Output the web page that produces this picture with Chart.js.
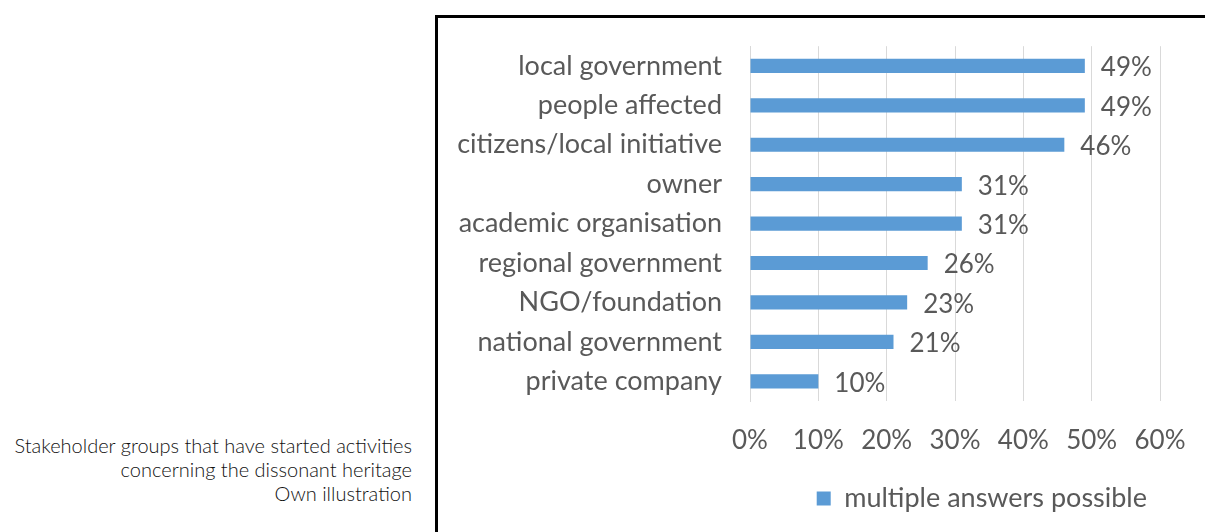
<!DOCTYPE html>
<html>
<head>
<meta charset="utf-8">
<script src="https://cdn.jsdelivr.net/npm/chart.js@4/dist/chart.umd.min.js"></script>
<style>
  html, body { margin: 0; padding: 0; background: #fff; }
  body { width: 1205px; height: 532px; position: relative; overflow: hidden; }
  .caption {
    position: absolute; right: 793px; top: 433px; width: 430px;
    text-align: right; font-family: Lato, sans-serif; font-weight: 300;
    font-size: 20px; line-height: 24px; color: #111;
  }
  .frame {
    position: absolute; left: 435px; top: 15px; width: 900px; height: 700px;
    border: 3px solid #000; box-sizing: border-box;
  }
  .chart-box { position: absolute; left: 440px; top: 2px; width: 765px; height: 530px; }
</style>
</head>
<body>
<div class="caption">Stakeholder groups that have started activities<br>concerning the dissonant heritage<br>Own illustration</div>
<div class="frame"></div>
<div class="chart-box"><canvas id="chart"></canvas></div>
<script>
(function(){
    // data
    let categories = [
        'local government', 'people affected', 'citizens/local initiative',
        'owner', 'academic organisation', 'regional government',
        'NGO/foundation', 'national government', 'private company'
    ];
    let shares = [49, 49, 46, 31, 31, 26, 23, 21, 10];
    let seriesName = 'multiple answers possible';
    let axisMax = 60;
    let axisStep = 10;

    let barColor = '#5b9bd5';
    let textColor = '#595959';
    let fontFamily = 'Lato, "Liberation Sans", sans-serif';

    // value labels right of every bar
    let valueLabels = {
        id: 'valueLabels',
        afterDatasetsDraw(chart) {
            let ctx = chart.ctx;
            let meta = chart.getDatasetMeta(0);
            ctx.save();
            ctx.font = '26px ' + fontFamily;
            ctx.fillStyle = textColor;
            ctx.textBaseline = 'middle';
            meta.data.forEach((bar, i) => {
                ctx.fillText(shares[i] + '%', bar.x + 16, bar.y + 2);
            });
            ctx.restore();
        }
    };

    let ctx = document.getElementById('chart').getContext('2d');
    new Chart(ctx, {
        type: 'bar',
        data: {
            labels: categories,
            datasets: [{
                label: seriesName,
                data: shares,
                backgroundColor: barColor,
                barPercentage: 0.72,
                categoryPercentage: 0.5
            }]
        },
        options: {
            indexAxis: 'y',
            responsive: true,
            maintainAspectRatio: false,
            animation: false,
            layout: { padding: { top: 7, right: 45, bottom: 10, left: 0 } },
            scales: {
                x: {
                    min: 0,
                    max: axisMax,
                    ticks: {
                        stepSize: axisStep,
                        callback: (v) => v + '%',
                        color: textColor,
                        font: { family: fontFamily, size: 26 },
                        padding: 24
                    },
                    grid: { color: '#d9d9d9', drawTicks: false },
                    border: { display: false },
                    afterFit: (scale) => {
                        scale.height = 71;
                        scale.paddingRight = 0;
                    }
                },
                y: {
                    ticks: {
                        color: textColor,
                        font: { family: fontFamily, size: 27 },
                        padding: 28
                    },
                    grid: { display: false, drawTicks: false },
                    border: { color: '#d9d9d9' },
                    afterFit: (scale) => { scale.width = 310; }
                }
            },
            plugins: {
                legend: {
                    position: 'bottom',
                    align: 'end',
                    labels: {
                        color: textColor,
                        font: { family: fontFamily, size: 27 },
                        boxWidth: 14,
                        boxHeight: 14,
                        padding: 13
                    }
                },
                tooltip: { enabled: false }
            }
        },
        plugins: [valueLabels]
    });
})();
</script>
</body>
</html>
